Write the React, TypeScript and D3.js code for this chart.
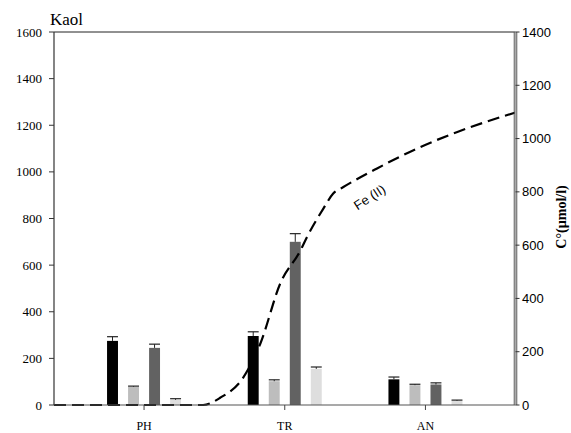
import React from "react";
import * as d3 from "d3";

const categories = ["PH", "TR", "AN"];
const seriesNames = ["s1", "s2", "s3", "s4"];
const seriesColors = ["#000000", "#bdbdbd", "#626262", "#dedede"];
// values[series][category]
const barValues = [
  [275, 296, 110],
  [78, 102, 85],
  [245, 700, 88],
  [22, 155, 18],
];
const barErrors = [
  [18, 18, 10],
  [3, 6, 4],
  [16, 35, 7],
  [5, 8, 3],
];
const leftTicks = [0, 200, 400, 600, 800, 1000, 1200, 1400, 1600];
const rightTicks = [0, 200, 400, 600, 800, 1000, 1200, 1400];
// Fe(II) curve: x as % along the axis, y in µmol/l
const feX = [0, 32.3, 36, 41, 44.7, 49, 53.4, 54.8, 58.4, 60.5, 62.7, 70, 78.7, 87.4, 100];
const feY = [0, 0, 27, 103, 230, 455, 580, 630, 738, 794, 818, 888, 963, 1025, 1098];

export default function App() {
  const W = 571, H = 433;
  const left = 54, right = 515.5, top = 32, bottom = 405;
  const yL = d3.scaleLinear().domain([0, 1600]).range([bottom, top]);
  const yR = d3.scaleLinear().domain([0, 1400]).range([bottom, top]);
  const xC = d3.scalePoint().domain(categories).range([left, right]).padding(0.64);
  const xLine = d3.scaleLinear().domain([0, 100]).range([left, right]);
  const inner = d3.scaleBand().domain(seriesNames).range([-37, 37]).paddingInner(0.48).paddingOuter(0);
  const bw = inner.bandwidth();
  const line = d3
    .line<number>()
    .x((_, i) => xLine(feX[i]))
    .y((d) => yR(d))
    .curve(d3.curveMonotoneX);
  const serif = { fontFamily: '"Liberation Serif", "DejaVu Serif", serif' };
  const sans = { fontFamily: '"Liberation Sans", Arial, sans-serif' };
  return (
    <svg width={W} height={H} style={{ position: "absolute", left: 0, top: 0 }}>
      <rect width={W} height={H} fill="#fff" />
      <text x={50} y={25} style={serif} fontSize={17}>Kaol</text>
      {/* top border */}
      <line x1={left} x2={right} y1={top} y2={top} stroke="#222" strokeWidth={1} />
      {/* bars */}
      {seriesNames.map((s, si) =>
        categories.map((c, ci) => {
          const v = barValues[si][ci];
          const e = barErrors[si][ci];
          const x0 = (xC(c) as number) + (inner(s) as number);
          const cx = x0 + bw / 2;
          return (
            <g key={s + c}>
              <rect x={x0} y={yL(v)} width={bw} height={bottom - yL(v)} fill={seriesColors[si]} />
              <line x1={cx} x2={cx} y1={yL(v)} y2={yL(v + e)} stroke="#222" strokeWidth={1} />
              <line x1={x0} x2={x0 + bw} y1={yL(v + e)} y2={yL(v + e)} stroke="#222" strokeWidth={1.2} />
            </g>
          );
        })
      )}
      {/* Fe line */}
      <path d={line(feY) || ""} fill="none" stroke="#000" strokeWidth={2.2} strokeDasharray="12,6" />
      <text
        transform={`translate(372,201) rotate(-33)`}
        textAnchor="middle"
        style={sans}
        fontSize={13}
      >
        Fe (II)
      </text>
      {/* left axis */}
      <line x1={left} x2={left} y1={top} y2={bottom} stroke="#333" strokeWidth={1.2} />
      {leftTicks.map((t) => (
        <g key={"l" + t}>
          <line x1={left - 5} x2={left} y1={yL(t)} y2={yL(t)} stroke="#333" />
          <text x={42} y={yL(t) + 4.5} textAnchor="end" style={serif} fontSize={13}>{t}</text>
        </g>
      ))}
      {/* bottom axis */}
      <line x1={left} x2={right} y1={bottom} y2={bottom} stroke="#555" strokeWidth={1.2} />
      {categories.map((c) => (
        <g key={"x" + c}>
          <line x1={xC(c)} x2={xC(c)} y1={bottom} y2={bottom + 5} stroke="#444" />
          <text x={xC(c)} y={430} textAnchor="middle" style={serif} fontSize={12}>{c}</text>
        </g>
      ))}
      {/* right axis (double line) */}
      <line x1={right} x2={right} y1={top} y2={bottom} stroke="#aaa" strokeWidth={2} />
      <line x1={right - 1.3} x2={right - 1.3} y1={top} y2={bottom} stroke="#444" strokeWidth={0.8} />
      <line x1={right + 1.3} x2={right + 1.3} y1={top} y2={bottom} stroke="#444" strokeWidth={0.8} />
      {rightTicks.map((t) => (
        <g key={"r" + t}>
          <line x1={right} x2={right + 4} y1={yR(t)} y2={yR(t)} stroke="#333" />
          <text x={522} y={yR(t) + 4.5} style={sans} fontSize={13}>{t}</text>
        </g>
      ))}
      <text
        transform={`translate(566,217) rotate(-90)`}
        textAnchor="middle"
        style={serif}
        fontWeight="bold"
        fontSize={14}
      >
        C°(µmol/l)
      </text>
    </svg>
  );
}
